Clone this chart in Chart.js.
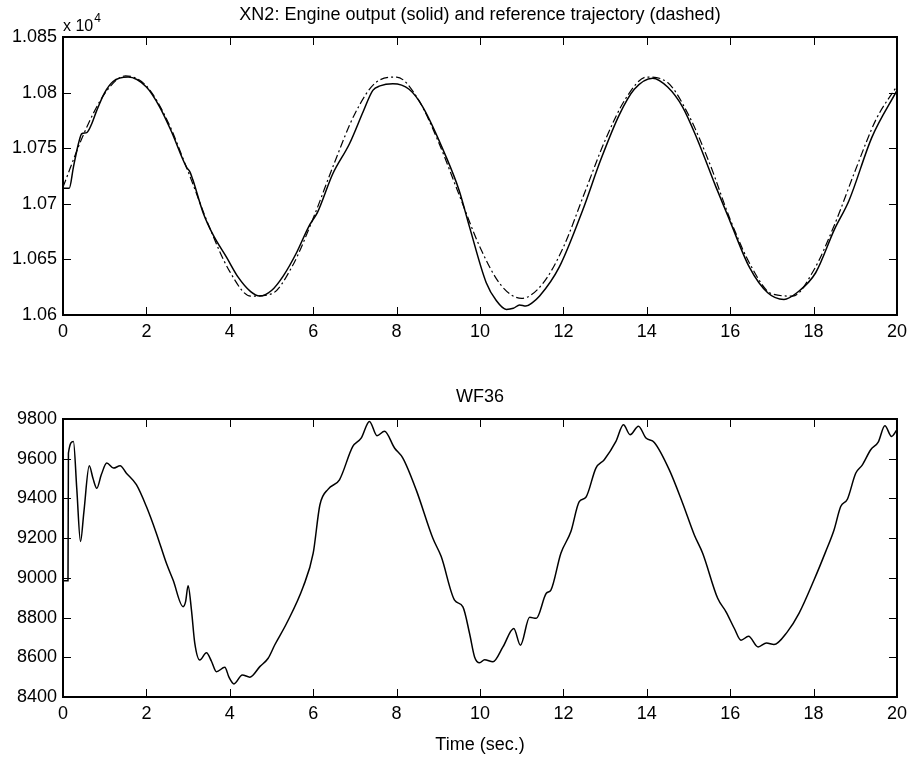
<!DOCTYPE html>
<html lang="en">
<head>
  <meta charset="UTF-8">
  <title>XN2 and WF36</title>
  <script src="https://cdn.jsdelivr.net/npm/chart.js"></script>
  <style>
    body { margin: 0; background: #fff; }
    .plot { position: absolute; left: 0; }
  </style>
</head>
<body>
  <canvas id="xn2" class="plot" width="913" height="345" style="top:0"></canvas>
  <canvas id="wf36" class="plot" width="913" height="378" style="top:380px"></canvas>

  <script>
    // x 10^4 speed, reference trajectory (dash-dot)
    const refTime = [0, 0.5, 1, 1.5, 2, 2.5, 3, 3.5, 4, 4.5, 5, 5.5, 6, 6.5, 7, 7.5, 8, 8.5, 9, 9.5, 10,
      10.5, 11, 11.5, 12, 12.5, 13, 13.5, 14, 14.5, 15, 15.5, 16, 16.5, 17, 17.5, 18, 18.5, 19, 19.5, 20];
    const refSpeed = [10715, 10763, 10799, 10815, 10806, 10775, 10729, 10680, 10639, 10617, 10619,
      10644, 10687, 10736, 10781, 10809, 10814, 10795, 10756, 10708, 10661, 10627, 10615, 10628,
      10661, 10709, 10757, 10795, 10814, 10809, 10780, 10737, 10686, 10644, 10619, 10617, 10640,
      10681, 10730, 10776, 10806];

    // engine output (solid)
    const engTime = [0, 0.15, 0.25, 0.37, 0.45, 0.57, 0.69, 0.81, 1.0, 1.2, 1.56, 2.0, 2.32, 2.6, 2.96,
      3.04, 3.11, 3.36, 3.6, 3.92, 4.2, 4.5, 4.72, 5.0, 5.28, 5.6, 5.9, 6.0, 6.1, 6.47, 6.87, 7.2,
      7.43, 7.6, 7.91, 8.3, 8.63, 9.19, 9.5, 9.75, 10.15, 10.39, 10.63, 10.8, 10.95, 11.1, 11.25,
      11.43, 11.9, 12.46, 12.9, 13.34, 13.7, 14.14, 14.5, 14.86, 15.2, 15.66, 16.0, 16.46, 16.9,
      17.29, 17.6, 18.05, 18.5, 18.85, 19.4, 20];
    const engSpeed = [10714, 10714, 10733, 10754, 10763, 10764, 10772, 10784, 10800, 10810, 10814,
      10805, 10787, 10765, 10733, 10729, 10722, 10692, 10672, 10652, 10634, 10621, 10617, 10622,
      10635, 10656, 10680, 10686, 10692, 10727, 10754, 10783, 10802, 10806, 10808, 10803, 10787,
      10742, 10712, 10679, 10629, 10613, 10605, 10606, 10609, 10608, 10611, 10617, 10643, 10694,
      10740, 10780, 10803, 10813, 10805, 10787, 10759, 10715, 10684, 10643, 10620, 10614, 10620,
      10638, 10677, 10703, 10760, 10802];

    // WF36
    const wfTime = [0, 0.12, 0.13, 0.25, 0.33, 0.42, 0.5, 0.63, 0.72, 0.81, 0.92, 1.05, 1.21, 1.37,
      1.52, 1.76, 2.0, 2.24, 2.48, 2.64, 2.88, 2.94, 3.0, 3.08, 3.16, 3.28, 3.44, 3.56, 3.68, 3.88,
      3.98, 4.1, 4.3, 4.48, 4.72, 4.92, 5.08, 5.36, 5.76, 6.0, 6.16, 6.36, 6.63, 6.95, 7.15, 7.35,
      7.53, 7.71, 7.95, 8.15, 8.47, 8.87, 9.07, 9.39, 9.59, 9.75, 9.87, 9.99, 10.11, 10.31, 10.55,
      10.81, 10.97, 11.19, 11.35, 11.59, 11.7, 11.94, 12.18, 12.38, 12.54, 12.78, 12.98, 13.26,
      13.44, 13.6, 13.8, 13.98, 14.18, 14.54, 14.86, 15.14, 15.34, 15.7, 15.9, 16.1, 16.26, 16.44,
      16.67, 16.87, 17.05, 17.37, 17.65, 18.01, 18.29, 18.49, 18.65, 18.81, 19.01, 19.17, 19.37,
      19.55, 19.71, 19.87, 20];
    const wfFuel = [8986, 8986, 9628, 9687, 9450, 9183, 9330, 9564, 9500, 9451, 9520, 9578, 9553,
      9564, 9527, 9469, 9359, 9224, 9073, 8989, 8855, 8880, 8960, 8839, 8671, 8586, 8623, 8580,
      8527, 8550, 8500, 8466, 8511, 8500, 8553, 8595, 8663, 8770, 8955, 9124, 9367, 9447, 9494,
      9662, 9704, 9788, 9716, 9738, 9654, 9603, 9443, 9199, 9107, 8888, 8854, 8720, 8602, 8572,
      8588, 8577, 8652, 8745, 8661, 8801, 8796, 8922, 8938, 9124, 9233, 9384, 9406, 9553, 9595,
      9687, 9771, 9721, 9763, 9704, 9682, 9544, 9376, 9216, 9124, 8897, 8829, 8745, 8686, 8706,
      8652, 8672, 8664, 8728, 8821, 8989, 9132, 9241, 9359, 9396, 9527, 9569, 9645, 9684, 9766,
      9712, 9746];

    const xTicks = [0, 2, 4, 6, 8, 10, 12, 14, 16, 18, 20];
    const xnTicks = [10600, 10650, 10700, 10750, 10800, 10850];
    const wfTicks = [8400, 8600, 8800, 9000, 9200, 9400, 9600, 9800];

    const FONT = 'Liberation Sans, Arial, Helvetica, sans-serif';
    Chart.defaults.font.family = FONT;
    Chart.defaults.font.size = 18;
    Chart.defaults.color = '#000';

    const pts = (t, v) => t.map((x, i) => ({ x: x, y: v[i] }));

    // matlab style box: inward ticks on all four sides, title, exponent
    const matlabBox = {
      id: 'matlabBox',
      afterDraw(chart, args, opts) {
        const { ctx, chartArea: a, scales } = chart;
        const x = scales.x, y = scales.y;
        ctx.save();
        ctx.strokeStyle = '#000';
        ctx.lineWidth = 1;
        ctx.beginPath();
        xTicks.forEach(v => {
          const px = Math.round(x.getPixelForValue(v)) + 0.5;
          ctx.moveTo(px, a.bottom); ctx.lineTo(px, a.bottom - 8);
          ctx.moveTo(px, a.top); ctx.lineTo(px, a.top + 8);
        });
        opts.yTicks.forEach(v => {
          const py = Math.round(y.getPixelForValue(v)) + 0.5;
          ctx.moveTo(a.left, py); ctx.lineTo(a.left + 8, py);
          ctx.moveTo(a.right, py); ctx.lineTo(a.right - 8, py);
        });
        ctx.stroke();
        ctx.lineWidth = 2;
        ctx.strokeRect(a.left, a.top, a.right - a.left, a.bottom - a.top);

        ctx.fillStyle = '#000';
        ctx.textAlign = 'center';
        ctx.textBaseline = 'middle';
        ctx.font = '18px ' + FONT;
        ctx.fillText(opts.title, (a.left + a.right) / 2, a.top - 22);
        if (opts.exponent) {
          ctx.textAlign = 'left';
          ctx.textBaseline = 'alphabetic';
          ctx.font = '16px ' + FONT;
          ctx.fillText('x 10', a.left, a.top - 6);
          const w = ctx.measureText('x 10').width;
          ctx.font = '12px ' + FONT;
          ctx.fillText(opts.exponent, a.left + w + 1, a.top - 15);
        }
        ctx.restore();
      }
    };

    function lineSet(data, dash, width) {
      return {
        data: data,
        borderColor: '#000',
        borderWidth: width,
        borderDash: dash,
        pointRadius: 0,
        fill: false,
        cubicInterpolationMode: 'monotone'
      };
    }

    function makeOptions(cfg) {
      return {
        responsive: false,
        animation: false,
        layout: { padding: { top: cfg.padTop, right: 15, left: 0, bottom: 0 } },
        scales: {
          x: {
            type: 'linear', min: 0, max: 20,
            afterBuildTicks: s => { s.ticks = xTicks.map(v => ({ value: v })); },
            afterFit: s => { s.height = cfg.xHeight; },
            ticks: { padding: 6, color: '#000' },
            grid: { display: false, drawTicks: false },
            border: { display: false },
            title: cfg.xTitle ? { display: true, text: cfg.xTitle, color: '#000', padding: { top: 0, bottom: 2 } } : { display: false }
          },
          y: {
            min: cfg.yTicks[0], max: cfg.yTicks[cfg.yTicks.length - 1],
            afterBuildTicks: s => { s.ticks = cfg.yTicks.map(v => ({ value: v })); },
            afterFit: s => { s.width = 63; },
            ticks: { padding: 6, color: '#000', callback: cfg.yLabel },
            grid: { display: false, drawTicks: false },
            border: { display: false }
          }
        },
        plugins: {
          legend: { display: false },
          tooltip: { enabled: false },
          matlabBox: { title: cfg.title, yTicks: cfg.yTicks, exponent: cfg.exponent }
        }
      };
    }

    new Chart(document.getElementById('xn2'), {
      type: 'line',
      data: {
        datasets: [
          lineSet(pts(refTime, refSpeed), [8, 3, 2, 3], 1.2),
          lineSet(pts(engTime, engSpeed), [], 1.5)
        ]
      },
      options: makeOptions({
        padTop: 37, xHeight: 30, yTicks: xnTicks,
        title: 'XN2: Engine output (solid) and reference trajectory (dashed)',
        exponent: '4',
        yLabel: v => String(parseFloat((v / 10000).toFixed(3)))
      }),
      plugins: [matlabBox]
    });

    new Chart(document.getElementById('wf36'), {
      type: 'line',
      data: {
        datasets: [lineSet(pts(wfTime, wfFuel), [], 1.5)]
      },
      options: makeOptions({
        padTop: 39, xHeight: 61, yTicks: wfTicks,
        title: 'WF36', xTitle: 'Time (sec.)',
        yLabel: v => String(v)
      }),
      plugins: [matlabBox]
    });
  </script>
</body>
</html>
